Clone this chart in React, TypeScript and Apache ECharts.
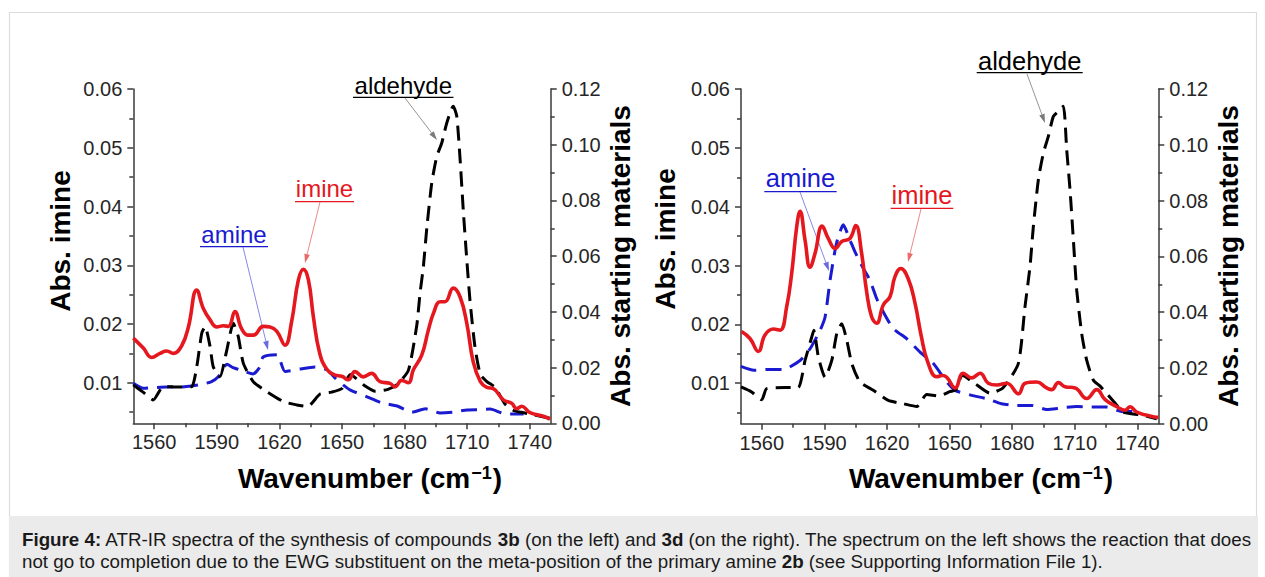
import React, { useEffect, useRef } from "react";
import * as echarts from "echarts";

// ---------- axis ticks ----------
const X_TICKS = [1560, 1590, 1620, 1650, 1680, 1710, 1740];
const X_MINOR = [1575, 1605, 1635, 1665, 1695, 1725];
const IMINE_TICKS = [0.01, 0.02, 0.03, 0.04, 0.05, 0.06];
const IMINE_MINOR = [0.005, 0.015, 0.025, 0.035, 0.045, 0.055];
const SM_TICKS = [0, 0.02, 0.04, 0.06, 0.08, 0.1, 0.12];
const SM_MINOR = [0.01, 0.03, 0.05, 0.07, 0.09, 0.11];

// ---------- left panel (3b) ----------
const LEFT_IMINE = [
  [1550, 0.0176], [1554.8, 0.0159], [1558.8, 0.0143], [1562.8, 0.015], [1566, 0.0154], [1569.2, 0.015],
  [1573.2, 0.0163], [1576.4, 0.0195], [1580.4, 0.0258], [1583.5, 0.0227], [1586.8, 0.0207], [1590, 0.0195],
  [1593.1, 0.0197], [1595.5, 0.0196], [1598.7, 0.0221], [1601.9, 0.0192], [1605.1, 0.0181], [1607.5, 0.0181],
  [1612.3, 0.0196], [1615.5, 0.0195], [1618.7, 0.0188], [1622.7, 0.0164], [1625.9, 0.0205], [1629.1, 0.0275],
  [1631.5, 0.0293], [1633.9, 0.0275], [1636.3, 0.0212], [1639.2, 0.0152], [1642.7, 0.0123], [1646.7, 0.0113],
  [1649.9, 0.0111], [1653, 0.0105], [1656.2, 0.0119], [1660.2, 0.011], [1664.2, 0.0116], [1668.2, 0.0102],
  [1673, 0.0099], [1675.4, 0.0093], [1678.6, 0.0104], [1681.8, 0.01], [1684.2, 0.0122], [1688.2, 0.0147],
  [1691.4, 0.019], [1693.8, 0.0218], [1697, 0.0238], [1699.4, 0.0238], [1703.3, 0.0261], [1706.6, 0.0246],
  [1709.8, 0.0201], [1712.9, 0.0135], [1716.3, 0.0102], [1719.4, 0.0092], [1722.5, 0.009], [1727.3, 0.0071],
  [1731.3, 0.0065], [1733.7, 0.0056], [1736.1, 0.006], [1740.1, 0.0049], [1746.5, 0.0043], [1749.7, 0.0038],
];
const LEFT_ALDEHYDE = [
  [1550, 0.0138], [1555, 0.011], [1559.6, 0.0084], [1564.4, 0.0132], [1572.4, 0.013], [1578, 0.0132],
  [1580.4, 0.0203], [1582.8, 0.0323], [1584.4, 0.0347], [1586.8, 0.0275], [1588.3, 0.0203], [1591.5, 0.0167],
  [1594.8, 0.0263], [1597.9, 0.0359], [1600.3, 0.0311], [1602.7, 0.0216], [1607.5, 0.0149], [1613.9, 0.0114],
  [1621.9, 0.0078], [1628.3, 0.0066], [1633.5, 0.006], [1639.5, 0.0105], [1645, 0.0112], [1650, 0.0125],
  [1654, 0.0175], [1660.3, 0.0138], [1666, 0.0115], [1672, 0.0122], [1676.5, 0.014], [1681.8, 0.019],
  [1685.8, 0.035], [1687.4, 0.0467], [1689, 0.0563], [1690.7, 0.0706], [1693, 0.0862], [1695.4, 0.0958],
  [1697.8, 0.1006], [1700.2, 0.1078], [1703.3, 0.1138], [1705, 0.1102], [1706.6, 0.0946], [1708.1, 0.0766],
  [1709.8, 0.0587], [1711.3, 0.0443], [1713.7, 0.0275], [1716.3, 0.0175], [1719.4, 0.015], [1723.5, 0.0128],
  [1728, 0.007], [1732.5, 0.0045], [1737, 0.0038], [1742, 0.003], [1749.7, 0.0018],
];
const LEFT_AMINE = [
  [1550, 0.0144], [1554.8, 0.0126], [1560, 0.0128], [1566, 0.013], [1572, 0.013], [1578, 0.0134],
  [1583, 0.014], [1587.5, 0.015], [1590.6, 0.0166], [1594.9, 0.0212], [1597.8, 0.02], [1601.1, 0.0192],
  [1607.4, 0.0177], [1610.5, 0.02], [1612.2, 0.0238], [1618.9, 0.0246], [1622.7, 0.0186], [1629.9, 0.0195],
  [1637.1, 0.0202], [1642.8, 0.0192], [1647, 0.016], [1650.5, 0.0138], [1653.8, 0.012], [1662, 0.0095],
  [1669.2, 0.0073], [1676.4, 0.0062], [1683.5, 0.004], [1690, 0.0052], [1697, 0.0037], [1703, 0.004],
  [1710, 0.0048], [1716, 0.0049], [1721, 0.0051], [1728, 0.0034], [1737, 0.0033],
];

// ---------- right panel (3d) ----------
const RIGHT_IMINE = [
  [1550.3, 0.0188], [1554.3, 0.0176], [1558.3, 0.0154], [1561.5, 0.0182], [1565.5, 0.0192], [1568.7, 0.019],
  [1571.9, 0.023], [1574.3, 0.0287], [1576.7, 0.0366], [1578.3, 0.0392], [1580.7, 0.0343], [1583.1, 0.0297],
  [1585.5, 0.0321], [1588.9, 0.0367], [1591.8, 0.0346], [1595.1, 0.0329], [1598.3, 0.0341], [1602.2, 0.0346],
  [1605, 0.0368], [1607.8, 0.0321], [1610.2, 0.0256], [1612.6, 0.0213], [1615, 0.0202], [1618.2, 0.0233],
  [1621.4, 0.0247], [1623.8, 0.0281], [1626.6, 0.0295], [1630.2, 0.0277], [1633.4, 0.0236], [1636.4, 0.018],
  [1639.4, 0.0137], [1643.8, 0.0111], [1646.5, 0.0113], [1648.6, 0.011], [1652.6, 0.0092], [1656.5, 0.0117],
  [1660.6, 0.0109], [1664.6, 0.0117], [1668.5, 0.01], [1672.6, 0.0097], [1677.4, 0.01], [1683, 0.0082],
  [1686.2, 0.01], [1691.7, 0.0102], [1696.5, 0.0092], [1698.9, 0.0089], [1702.1, 0.0101], [1705.3, 0.0094],
  [1710.1, 0.0092], [1715.7, 0.0074], [1720.5, 0.0089], [1724.5, 0.0072], [1730.1, 0.006], [1734.1, 0.0054],
  [1736.5, 0.006], [1739.7, 0.0051], [1747.6, 0.0043], [1750, 0.0042],
];
const RIGHT_ALDEHYDE = [
  [1550, 0.0132], [1555.1, 0.0114], [1559.9, 0.0086], [1562.3, 0.0126], [1571, 0.013], [1577.4, 0.013],
  [1580.7, 0.0227], [1583.9, 0.0311], [1584.9, 0.0335], [1587.1, 0.0239], [1590.3, 0.0167], [1593.5, 0.0227],
  [1595.9, 0.0323], [1598.3, 0.0359], [1600.7, 0.0299], [1603.1, 0.0216], [1607, 0.015], [1613.4, 0.012],
  [1620.6, 0.0084], [1627.8, 0.0072], [1634.2, 0.0062], [1639, 0.0105], [1645, 0.01], [1650, 0.0115],
  [1653, 0.0122], [1656, 0.0174], [1662.2, 0.0144], [1669.3, 0.011], [1675.6, 0.0129], [1682.9, 0.0216],
  [1686.1, 0.0419], [1688.5, 0.0563], [1690.1, 0.0706], [1692.5, 0.0874], [1694.9, 0.097], [1697.3, 0.103],
  [1699.7, 0.1102], [1702.1, 0.112], [1704.5, 0.1138], [1706.1, 0.0982], [1707.7, 0.0838], [1709.3, 0.0659],
  [1710.9, 0.0479], [1713.3, 0.0323], [1715.7, 0.0227], [1718.9, 0.0156], [1722.1, 0.0135], [1728.4, 0.0082],
  [1733.2, 0.0042], [1738, 0.0035], [1743, 0.003], [1749.3, 0.0018],
];
const RIGHT_AMINE = [
  [1550, 0.0206], [1556.2, 0.0192], [1564, 0.0195], [1570.3, 0.0195], [1578.3, 0.0227], [1583.1, 0.0269],
  [1587.9, 0.0335], [1590.3, 0.0383], [1592.7, 0.0515], [1595.1, 0.0623], [1596.6, 0.067], [1599, 0.0713],
  [1602.2, 0.0659], [1604.6, 0.0617], [1608.6, 0.0557], [1611.8, 0.0515], [1615, 0.0449], [1618.2, 0.0401],
  [1623, 0.0341], [1629.4, 0.0305], [1635.8, 0.0257], [1642.2, 0.0216], [1648.6, 0.015], [1652.6, 0.012],
  [1660.6, 0.0102], [1667.8, 0.009], [1674.8, 0.0072], [1682, 0.0066], [1689.3, 0.0066], [1696.5, 0.0051],
  [1703.7, 0.0057], [1710.9, 0.0062], [1718, 0.006], [1725.2, 0.006], [1732.4, 0.0044], [1739.6, 0.0044],
];

const CAPTION_1 =
  "{b|Figure 4:} ATR-IR spectra of the synthesis of compounds {b|3b} (on the left) and {b|3d} (on the right). The spectrum on the left shows the reaction that does";
const CAPTION_2 =
  "not go to completion due to the EWG substituent on the meta-position of the primary amine {b|2b} (see Supporting Information File 1).";

const FONT = "'Liberation Sans', Arial, Helvetica, sans-serif";
const AXIS_COLOR = "#3a3a3a";
const LABEL_COLOR = "#262626";
const RED = "#e4181e";
const BLUE = "#1a1ad0";
const BLACK = "#000000";
const CAPTION_SIZE = 18.75;

const GRIDS = [
  { left: 133.3, top: 89, width: 417.4, height: 334.3 },
  { left: 741, top: 89, width: 417.3, height: 334.8 },
];

const fmt2 = (v: number) => v.toFixed(2);

function buildXAxes(g: number) {
  const lineStyle = { color: AXIS_COLOR, width: 1.5 };
  return [
    {
      type: "value", gridIndex: g, position: "bottom", min: 1550, max: 1750,
      axisLine: { show: true, onZero: false, lineStyle },
      axisTick: { show: true, inside: false, length: 6, customValues: X_TICKS, lineStyle },
      axisLabel: { show: true, customValues: X_TICKS, margin: 9, fontSize: 20, fontFamily: FONT, color: LABEL_COLOR, formatter: (v: number) => String(v) },
      splitLine: { show: false },
    },
    {
      type: "value", gridIndex: g, position: "bottom", min: 1550, max: 1750,
      axisLine: { show: false, onZero: false },
      axisTick: { show: true, inside: false, length: 4, customValues: X_MINOR, lineStyle },
      axisLabel: { show: false },
      splitLine: { show: false },
    },
  ];
}

function buildYAxes(g: number) {
  const lineStyle = { color: AXIS_COLOR, width: 1.5 };
  const label = { show: true, margin: 11, fontSize: 20, fontFamily: FONT, color: LABEL_COLOR, formatter: fmt2 };
  return [
    {
      type: "value", gridIndex: g, position: "left", min: 0.0031, max: 0.06,
      axisLine: { show: true, onZero: false, lineStyle },
      axisTick: { show: true, inside: false, length: 6, customValues: IMINE_TICKS, lineStyle },
      axisLabel: { ...label, customValues: IMINE_TICKS },
      splitLine: { show: false },
    },
    {
      type: "value", gridIndex: g, position: "left", min: 0.0031, max: 0.06,
      axisLine: { show: false, onZero: false },
      axisTick: { show: true, inside: false, length: 4, customValues: IMINE_MINOR, lineStyle },
      axisLabel: { show: false },
      splitLine: { show: false },
    },
    {
      type: "value", gridIndex: g, position: "right", min: 0, max: 0.12,
      axisLine: { show: true, onZero: false, lineStyle },
      axisTick: { show: true, inside: false, length: 6, customValues: SM_TICKS, lineStyle },
      axisLabel: { ...label, customValues: SM_TICKS },
      splitLine: { show: false },
    },
    {
      type: "value", gridIndex: g, position: "right", min: 0, max: 0.12,
      axisLine: { show: false, onZero: false },
      axisTick: { show: true, inside: false, length: 4, customValues: SM_MINOR, lineStyle },
      axisLabel: { show: false },
      splitLine: { show: false },
    },
  ];
}

function buildSeries(g: number, imine: number[][], ald: number[][], amine: number[][]) {
  const common = { type: "line", xAxisIndex: g * 2, symbol: "none", silent: true };
  return [
    { ...common, name: "amine", yAxisIndex: g * 4 + 2, data: amine, smooth: 0.2,
      lineStyle: { color: BLUE, width: 3, type: [16, 9] }, z: 2 },
    { ...common, name: "aldehyde", yAxisIndex: g * 4 + 2, data: ald, smooth: 0.2,
      lineStyle: { color: BLACK, width: 3, type: [15, 8] }, z: 3 },
    { ...common, name: "imine", yAxisIndex: g * 4, data: imine, smooth: 0.45,
      lineStyle: { color: RED, width: 3.6 }, z: 4 },
  ];
}

function arrow(x1: number, y1: number, x2: number, y2: number, color: string) {
  const ang = Math.atan2(y2 - y1, x2 - x1);
  const L = 9, W = 2.8;
  const bx = x2 - L * Math.cos(ang), by = y2 - L * Math.sin(ang);
  const px = -Math.sin(ang) * W, py = Math.cos(ang) * W;
  return [
    { type: "line", silent: true, shape: { x1, y1, x2: bx, y2: by }, style: { stroke: color, lineWidth: 0.8 } },
    { type: "polygon", silent: true, shape: { points: [[x2, y2], [bx + px, by + py], [bx - px, by - py]] }, style: { fill: color } },
  ];
}

function tag(text: string, cx: number, cy: number, ulY: number, x0: number, x1: number, size: number, color: string) {
  return [
    { type: "text", silent: true, x: cx, y: cy,
      style: { text, fontSize: size, fontFamily: FONT, fill: color, align: "center", verticalAlign: "middle" } },
    { type: "line", silent: true, shape: { x1: x0, y1: ulY, x2: x1, y2: ulY }, style: { stroke: color, lineWidth: 1.3 } },
  ];
}

function rotTitle(text: string, x: number, y: number) {
  return { type: "text", silent: true, x, y, rotation: Math.PI / 2,
    style: { text, fontSize: 28, fontWeight: "bold", fontFamily: FONT, fill: "#000", align: "center", verticalAlign: "middle" } };
}

function xTitle(x: number, y: number) {
  return { type: "text", silent: true, x, y,
    style: {
      text: "Wavenumber (cm{sup|\u22121})", fontSize: 28, fontWeight: "bold", fontFamily: FONT, fill: "#000",
      align: "center", verticalAlign: "middle",
      rich: { sup: { fontSize: 18, fontWeight: "bold", fontFamily: FONT, fill: "#000", verticalAlign: "top", padding: [0, 1, 0, 1] } },
    } };
}

function captionLine(text: string, y: number) {
  return { type: "text", silent: true, x: 22, y,
    style: {
      text, fontSize: CAPTION_SIZE, fontFamily: FONT, fill: "#1a1a1a", align: "left", verticalAlign: "middle",
      rich: { b: { fontSize: CAPTION_SIZE, fontWeight: "bold", fontFamily: FONT, fill: "#1a1a1a" } },
    } };
}

export default function App() {
  const ref = useRef<HTMLDivElement>(null);
  useEffect(() => {
    if (!ref.current) return;
    const chart = echarts.init(ref.current, null, { renderer: "svg" });
    const graphic: any[] = [
      { type: "rect", silent: true, z: -10, shape: { x: 9.5, y: 12.5, width: 1247, height: 570 }, style: { fill: "none", stroke: "#dcdcdc", lineWidth: 1.2 } },
      { type: "rect", silent: true, z: -9, shape: { x: 9, y: 516, width: 1249, height: 61 }, style: { fill: "#ebebeb" } },
      captionLine(CAPTION_1, 539),
      captionLine(CAPTION_2, 561),
      rotTitle("Abs. imine", 60, 241),
      rotTitle("Abs. starting materials", 620, 256),
      rotTitle("Abs. imine", 665, 239),
      rotTitle("Abs. starting materials", 1228, 256),
      xTitle(370, 478),
      xTitle(981, 478),
      ...tag("aldehyde", 403.3, 85, 97.3, 353, 453.5, 24, "#000"),
      ...tag("imine", 324.5, 188, 201.7, 295, 354, 24, RED),
      ...tag("amine", 234, 234, 246.7, 200, 268, 24, BLUE),
      ...tag("aldehyde", 1029.7, 60.5, 72.7, 976.7, 1082.7, 25.5, "#000"),
      ...tag("amine", 800.5, 178, 191.7, 764.3, 836.7, 25.5, BLUE),
      ...tag("imine", 922, 194.5, 208.3, 890.7, 953.3, 25.5, RED),
      ...arrow(405, 98, 437, 140, "#7a7a7a"),
      ...arrow(320, 202, 305, 263, "#e86a6a"),
      ...arrow(243, 247, 268, 350, "#6a6ae0"),
      ...arrow(1027, 74, 1045, 123, "#7a7a7a"),
      ...arrow(800, 192, 829, 271, "#6a6ae0"),
      ...arrow(921, 209, 908, 262, "#e86a6a"),
    ];
    chart.setOption({
      animation: false,
      backgroundColor: "#ffffff",
      grid: GRIDS.map((g) => ({ ...g, containLabel: false })),
      xAxis: [...buildXAxes(0), ...buildXAxes(1)],
      yAxis: [...buildYAxes(0), ...buildYAxes(1)],
      series: [
        ...buildSeries(0, LEFT_IMINE, LEFT_ALDEHYDE, LEFT_AMINE),
        ...buildSeries(1, RIGHT_IMINE, RIGHT_ALDEHYDE, RIGHT_AMINE),
      ],
      graphic,
    });
    return () => chart.dispose();
  }, []);
  return (
    <div
      ref={ref}
      style={{ position: "absolute", left: 0, top: 0, width: 1265, height: 577, background: "#fff" }}
    />
  );
}
